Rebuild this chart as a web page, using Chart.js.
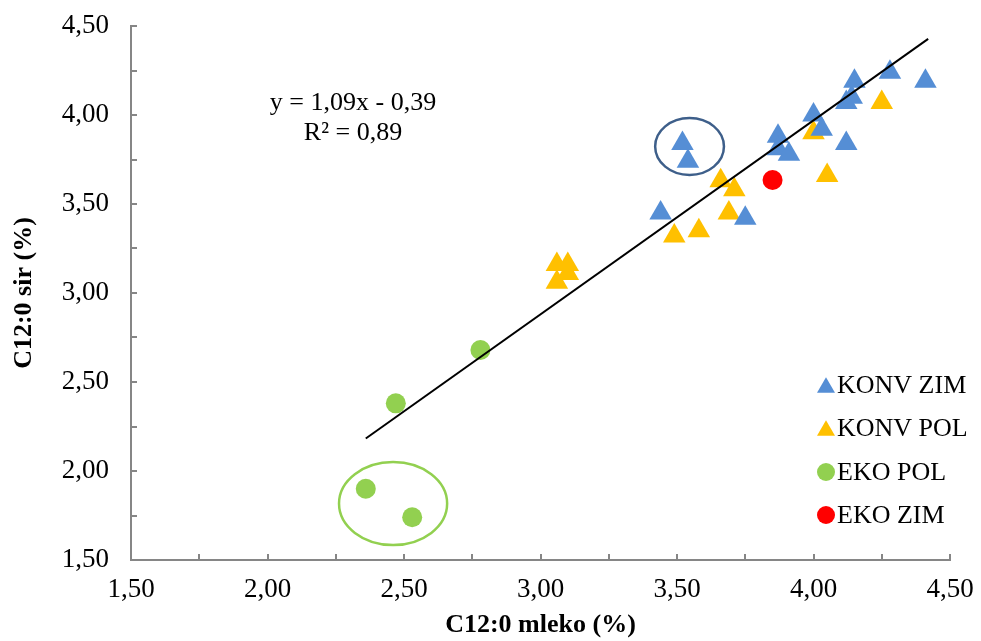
<!DOCTYPE html>
<html>
<head>
<meta charset="utf-8">
<script src="https://cdn.jsdelivr.net/npm/chart.js@4/dist/chart.umd.min.js"></script>
<style>
  html, body { margin: 0; padding: 0; background: #fff; }
  #wrap { width: 981px; height: 641px; }
</style>
</head>
<body>
<div id="wrap"><canvas id="c" width="981" height="641"></canvas></div>
<script>
// ---- data ----
const konvZimX = [3.44, 3.52, 3.54, 3.75, 3.87, 3.87, 3.91, 4.00, 4.03, 4.12, 4.12, 4.14, 4.15, 4.28, 4.41];
const konvZimY = [3.45, 3.84, 3.74, 3.42, 3.88, 3.81, 3.78, 4.00, 3.92, 3.84, 4.07, 4.10, 4.19, 4.24, 4.19];

const konvPolX = [3.06, 3.06, 3.10, 3.10, 3.49, 3.58, 3.69, 3.66, 3.71, 4.05, 4.00, 4.25];
const konvPolY = [3.06, 3.16, 3.16, 3.11, 3.32, 3.35, 3.45, 3.63, 3.58, 3.66, 3.90, 4.07];

const ekoPolX = [2.78, 2.47, 2.36, 2.53];
const ekoPolY = [2.68, 2.38, 1.90, 1.74];

const ekoZimX = [3.85];
const ekoZimY = [3.635];

const seriesLabels = ['KONV ZIM', 'KONV POL', 'EKO POL', 'EKO ZIM'];
const trendSlope = 1.09;
const trendIntercept = -0.39;
const trendXRange = [2.36, 4.42];
const equationLines = ['y = 1,09x - 0,39', 'R² = 0,89'];
const axisTickValues = [1.5, 2.0, 2.5, 3.0, 3.5, 4.0, 4.5];
const xTitle = 'C12:0 mleko (%)';
const yTitle = 'C12:0 sir (%)';
// highlight ellipses: center x, center y, radius x, radius y (data units)
const ellipseBlue = [3.546, 3.823, 0.126, 0.160];
const ellipseGreen = [2.46, 1.817, 0.198, 0.233];

// ---- build ----
const zip = (xs, ys) => xs.map((x, i) => ({ x: x, y: ys[i] }));
const fmt = v => v.toFixed(2).replace('.', ',');
const FONT = "'Liberation Serif', 'Times New Roman', serif";

const colors = ['#558ED5', '#FFC000', '#92D050', '#FF0000'];
const styles = ['triangle', 'triangle', 'circle', 'circle'];
const radii = [13, 13, 10, 10];

const datasets = [
  { type: 'line', label: 'trend', order: -1,
    data: trendXRange.map(x => ({ x: x, y: trendSlope * x + trendIntercept })),
    borderColor: '#000', borderWidth: 2, pointRadius: 0, fill: false, tension: 0 },
  { label: seriesLabels[0], data: zip(konvZimX, konvZimY) },
  { label: seriesLabels[1], data: zip(konvPolX, konvPolY) },
  { label: seriesLabels[2], data: zip(ekoPolX, ekoPolY) },
  { label: seriesLabels[3], data: zip(ekoZimX, ekoZimY) }
];
for (let i = 1; i < datasets.length; i++) {
  Object.assign(datasets[i], {
    type: 'scatter',
    pointStyle: styles[i - 1],
    pointRadius: radii[i - 1],
    pointHoverRadius: radii[i - 1],
    backgroundColor: colors[i - 1],
    borderColor: colors[i - 1],
    borderWidth: 0
  });
}

function drawMarker(ctx, style, x, y, r, color) {
  ctx.save();
  ctx.fillStyle = color;
  ctx.beginPath();
  if (style === 'triangle') {
    const h = r * Math.sqrt(3);
    ctx.moveTo(x, y - h / 2);
    ctx.lineTo(x + r, y + h / 2);
    ctx.lineTo(x - r, y + h / 2);
    ctx.closePath();
  } else {
    ctx.arc(x, y, r, 0, Math.PI * 2);
  }
  ctx.fill();
  ctx.restore();
}

const decorPlugin = {
  id: 'decor',
  afterDatasetsDraw(chart) {
    const ctx = chart.ctx;
    const xs = chart.scales.x, ys = chart.scales.y;
    // inward tick marks
    ctx.save();
    ctx.strokeStyle = '#868686';
    ctx.lineWidth = 2;
    const L = 6;
    xs.ticks.forEach(t => {
      const px = Math.round(xs.getPixelForValue(t.value));
      ctx.beginPath(); ctx.moveTo(px, ys.bottom); ctx.lineTo(px, ys.bottom - L); ctx.stroke();
    });
    ys.ticks.forEach(t => {
      const py = Math.round(ys.getPixelForValue(t.value));
      ctx.beginPath(); ctx.moveTo(xs.left, py); ctx.lineTo(xs.left + L, py); ctx.stroke();
    });
    // ellipses
    [[ellipseBlue, '#3E5F8A', 2.5], [ellipseGreen, '#92D050', 2.5]].forEach(([e, col, w]) => {
      const cx = xs.getPixelForValue(e[0]), cy = ys.getPixelForValue(e[1]);
      const rx = Math.abs(xs.getPixelForValue(e[0] + e[2]) - cx);
      const ry = Math.abs(ys.getPixelForValue(e[1] + e[3]) - cy);
      ctx.beginPath();
      ctx.ellipse(cx, cy, rx, ry, 0, 0, Math.PI * 2);
      ctx.strokeStyle = col; ctx.lineWidth = w; ctx.stroke();
    });
    // equation
    ctx.fillStyle = '#000';
    ctx.font = '26px ' + FONT;
    ctx.textAlign = 'center';
    ctx.textBaseline = 'middle';
    ctx.fillText(equationLines[0], 353, 103);
    ctx.fillText(equationLines[1], 353, 133);
    // legend
    const rows = [385, 428, 472, 515];
    ctx.textAlign = 'left';
    for (let i = 0; i < seriesLabels.length; i++) {
      drawMarker(ctx, styles[i], 826, rows[i], 9, colors[i]);
      ctx.fillStyle = '#000';
      ctx.fillText(seriesLabels[i], 837, rows[i] + 1);
    }
    ctx.restore();
  }
};

function tickCb(v) {
  return axisTickValues.some(t => Math.abs(t - v) < 1e-6) ? fmt(v) : '';
}

new Chart(document.getElementById('c'), {
  type: 'scatter',
  data: { datasets: datasets },
  options: {
    responsive: false,
    animation: false,
    devicePixelRatio: 1,
    layout: { padding: { left: 0, right: 31, top: 26, bottom: 0 } },
    plugins: { legend: { display: false }, tooltip: { enabled: false } },
    scales: {
      x: {
        type: 'linear', min: 1.5, max: 4.5,
        ticks: { stepSize: 0.25, autoSkip: false, maxRotation: 0, callback: tickCb,
                 color: '#000', font: { family: FONT, size: 27 }, padding: 14 },
        grid: { display: true, drawOnChartArea: false, drawTicks: false },
        border: { display: true, color: '#868686', width: 2 },
        title: { display: true, text: xTitle, color: '#000',
                 font: { family: FONT, size: 26, weight: 'bold' }, padding: { top: 0, bottom: 0 } },
        afterFit(s) { s.height = 81; s.paddingLeft = 0; s.paddingRight = 0; }
      },
      y: {
        type: 'linear', min: 1.5, max: 4.5,
        ticks: { stepSize: 0.25, autoSkip: false, callback: tickCb,
                 color: '#000', font: { family: FONT, size: 27 }, padding: 22 },
        grid: { display: true, drawOnChartArea: false, drawTicks: false },
        border: { display: true, color: '#868686', width: 2 },
        title: { display: true, text: yTitle, color: '#000',
                 font: { family: FONT, size: 26, weight: 'bold' }, padding: { top: 9, bottom: 0 } },
        afterFit(s) { s.width = 131; s.paddingTop = 0; s.paddingBottom = 0; }
      }
    }
  },
  plugins: [decorPlugin]
});
</script>
</body>
</html>
